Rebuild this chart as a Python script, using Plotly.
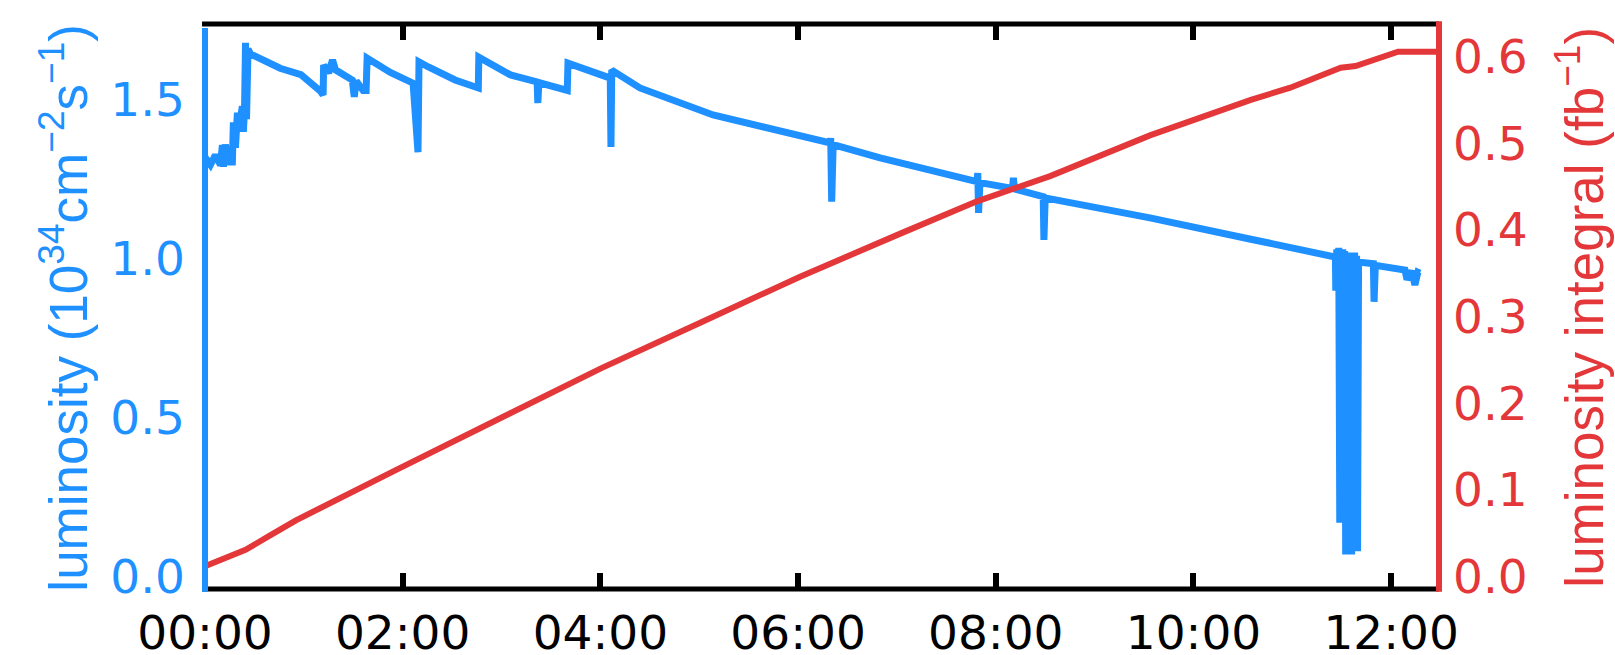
import plotly.graph_objects as go

# Instantaneous luminosity (10^34 cm^-2 s^-1) versus elapsed time (hours)
lumi_hours = [
    0.00, 0.03, 0.055, 0.105, 0.156, 0.176, 0.186, 0.206, 0.237, 0.277, 0.287,
    0.308, 0.328, 0.338, 0.378, 0.388, 0.400, 0.410, 0.420, 0.435, 0.460,
    0.76, 0.97, 1.17, 1.195, 1.200, 1.25, 1.29, 1.32, 1.49, 1.51, 1.53, 1.55,
    1.60, 1.630, 1.640, 1.875, 2.105, 2.155, 2.165, 2.26, 2.53, 2.765, 2.770,
    3.09, 3.36, 3.367, 3.378, 3.665, 3.672, 4.10, 4.107, 4.115, 4.40, 5.14,
    6.325, 6.330, 6.340, 6.355, 6.83, 7.81, 7.818, 7.826, 7.84, 8.17, 8.178,
    8.19, 8.48, 8.487, 8.50, 9.56, 10.58, 11.436,
    11.44, 11.45, 11.46, 11.47, 11.48, 11.49, 11.50, 11.51, 11.52, 11.53,
    11.54, 11.55, 11.56, 11.57, 11.58, 11.59, 11.60, 11.61, 11.62, 11.63,
    11.64, 11.65, 11.66, 11.67,
    11.82, 11.827, 11.84, 12.14, 12.16, 12.21, 12.24, 12.27, 12.29,
]
lumi_values = [
    1.32, 1.305, 1.296, 1.327, 1.296, 1.358, 1.29, 1.36, 1.305, 1.305, 1.43,
    1.35, 1.46, 1.405, 1.48, 1.40, 1.47, 1.68, 1.44, 1.66, 1.645,
    1.60, 1.58, 1.527, 1.516, 1.61, 1.585, 1.626, 1.595, 1.563, 1.51, 1.56, 1.553,
    1.53, 1.53, 1.632, 1.587, 1.553, 1.336, 1.62, 1.604, 1.563, 1.538, 1.635,
    1.579, 1.557, 1.49, 1.555, 1.53, 1.616, 1.569, 1.352, 1.594, 1.538, 1.453,
    1.365, 1.38, 1.18, 1.36, 1.318, 1.243, 1.27, 1.145, 1.24, 1.222, 1.255,
    1.22, 1.196, 1.06, 1.192, 1.129, 1.062, 1.006,
    0.90, 1.03, 0.90, 1.035, 0.17, 1.03, 0.17, 1.03, 0.17, 1.025,
    0.07, 1.02, 0.07, 1.02, 0.07, 1.02, 0.07, 1.02, 0.08, 1.02,
    0.08, 1.01, 0.08, 0.99,
    0.985, 0.865, 0.98, 0.965, 0.935, 0.962, 0.918, 0.958, 0.955,
]

# Integrated luminosity (fb^-1)
integral_hours = [0.0, 0.41, 0.65, 0.92, 1.93, 2.94, 4.0, 5.01, 6.02, 7.04, 7.81,
                  8.55, 9.56, 10.58, 10.98, 11.49, 11.64, 12.07, 12.6]
integral_values = [0.012, 0.031, 0.047, 0.065, 0.123, 0.181, 0.240, 0.293, 0.346,
                   0.396, 0.433, 0.462, 0.509, 0.550, 0.564, 0.587, 0.589, 0.6055,
                   0.6055]

tick_hours = [0, 2, 4, 6, 8, 10, 12]
tick_labels = ["00:00", "02:00", "04:00", "06:00", "08:00", "10:00", "12:00"]
left_ticks = [0.0, 0.5, 1.0, 1.5]
right_ticks = [0.0, 0.1, 0.2, 0.3, 0.4, 0.5, 0.6]

BLUE = "#1E90FF"
RED = "#E3373A"
TICK_FONT = dict(family="DejaVu Sans", size=47)
TITLE_FONT = "Liberation Sans, Arial, sans-serif"

fig = go.Figure()
fig.add_trace(go.Scatter(x=lumi_hours, y=lumi_values, mode="lines",
                         line=dict(color=BLUE, width=7), yaxis="y",
                         showlegend=False, hoverinfo="skip"))
fig.add_trace(go.Scatter(x=integral_hours, y=integral_values, mode="lines",
                         line=dict(color=RED, width=6), yaxis="y2",
                         showlegend=False, hoverinfo="skip"))

frame = [
    # black top and bottom frame lines
    dict(x0=-0.0024, x1=1.0, y0=1.0, y1=1.0, color="black", width=5),
    dict(x0=-0.0024, x1=1.0, y0=0.0, y1=0.0, color="black", width=5),
    # coloured vertical axis lines
    dict(x0=0.0, x1=0.0, y0=-0.0048, y1=0.9929, color=BLUE, width=6),
    dict(x0=1.0, x1=1.0, y0=-0.0048, y1=1.0048, color=RED, width=6),
]
shapes = [dict(type="line", xref="paper", yref="paper",
               x0=f["x0"], x1=f["x1"], y0=f["y0"], y1=f["y1"],
               line=dict(color=f["color"], width=f["width"]), layer="above")
          for f in frame]

fig.update_layout(
    width=1615, height=655,
    margin=dict(l=205, r=176, t=24, b=66),
    paper_bgcolor="white", plot_bgcolor="white",
    shapes=shapes,
    xaxis=dict(range=[0, 12.484], tickvals=tick_hours, ticktext=tick_labels,
               ticks="inside", ticklen=16, tickwidth=6, tickcolor="black",
               mirror="ticks", showline=False, showgrid=False, zeroline=False,
               ticklabelstandoff=12, automargin=False,
               tickfont=dict(color="black", **TICK_FONT)),
    yaxis=dict(range=[-0.0387, 1.7392], tickvals=left_ticks,
               ticktext=[f"{v:.1f}" for v in left_ticks],
               ticks="", showline=False, showgrid=False, zeroline=False,
               ticklabelstandoff=19, automargin=False,
               tickfont=dict(color=BLUE, **TICK_FONT)),
    yaxis2=dict(range=[-0.01419, 0.6375], tickvals=right_ticks,
                ticktext=[f"{v:.1f}" for v in right_ticks],
                overlaying="y", side="right",
                ticks="", showline=False, showgrid=False, zeroline=False,
                ticklabelstandoff=13, automargin=False,
                tickfont=dict(color=RED, **TICK_FONT)),
    annotations=[
        dict(text="luminosity (10<sup>34</sup>cm<sup>−2</sup>s<sup>−1</sup>)",
             xref="paper", yref="paper", x=0, y=0.498, xshift=-141,
             xanchor="center", yanchor="middle", textangle=-90, showarrow=False,
             font=dict(family=TITLE_FONT, size=53, color=BLUE)),
        dict(text="luminosity integral (fb<sup>−1</sup>)",
             xref="paper", yref="paper", x=1, y=0.498, xshift=141,
             xanchor="center", yanchor="middle", textangle=-90, showarrow=False,
             font=dict(family=TITLE_FONT, size=53, color=RED)),
    ],
)

fig.write_html("out.html")
